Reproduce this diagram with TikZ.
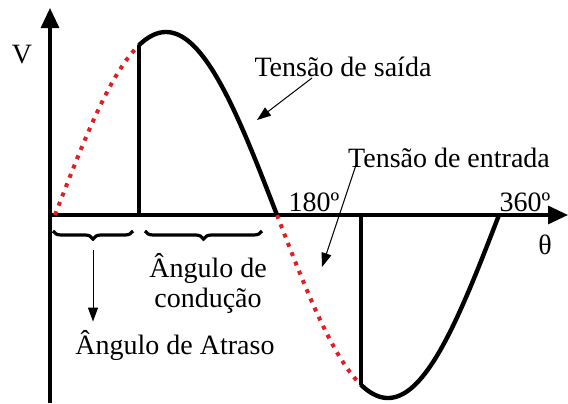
\documentclass[tikz,border=0pt]{standalone}
\usepackage{fontspec}
\setmainfont{Liberation Serif}
\usetikzlibrary{arrows.meta, positioning, calc, decorations.pathreplacing}
\definecolor{wavered}{RGB}{225,30,35}

\begin{document}
\begin{tikzpicture}[
  x=0.5pt, y=0.5pt,
  axis/.style={line width=1.6pt, -{Triangle[length=10pt, width=9pt]}},
  wave/.style={line width=2.2pt, black},
  ghost/.style={line width=2pt, wavered, dash pattern=on 2pt off 3pt},
  arr/.style={-{Triangle[length=7pt, width=5pt]}, line width=0.5pt},
  brc/.style={decorate, decoration={brace, mirror, amplitude=4pt}, line width=1.6pt},
  lbl/.style={font=\fontsize{14}{16}\selectfont, inner sep=2pt},
]
  \useasboundingbox (0,0) rectangle (568,403);

  % axes
  \coordinate (o) at (50,188);
  \draw[axis] (50,0) -- (50,395);
  \draw[axis] (o) -- (568,188);

  % input wave (dotted part) and output wave
  \draw[ghost] plot[domain=0:68, samples=40] ({55+1.2333*\x},{188+183*sin(\x)});
  \draw[ghost] plot[domain=180:248, samples=40] ({55+1.2333*\x},{188+183*sin(\x)});
  \draw[wave] plot[domain=68:180, samples=60] ({55+1.2333*\x},{188+183*sin(\x)});
  \draw[wave] plot[domain=248:360, samples=60] ({55+1.2333*\x},{188+183*sin(\x)});

  \coordinate (f1) at ({55+1.2333*68},188);
  \coordinate (f1top) at ({55+1.2333*68},{188+183*sin(68)});
  \coordinate (f2) at ({55+1.2333*248},188);
  \coordinate (f2bot) at ({55+1.2333*248},{188+183*sin(248)});
  \draw[wave] (f1) -- (f1top);
  \draw[wave] (f2) -- (f2bot);

  % axis labels
  \node[lbl] (vlab) at (22,348) {V};
  \node[lbl] (thlab) at (545,158) {θ};
  \node[lbl] (d180) at (314,201) {180º};
  \node[lbl] (d360) at (525,201) {360º};

  % braces under the axis
  \coordinate (b1s) at (53,172);
  \coordinate (b1e) at (133,172);
  \coordinate (b2s) at (145,172);
  \coordinate (b2e) at (262,172);
  \draw[brc] (b1s) -- (b1e);
  \draw[brc] (b2s) -- (b2e);

  \node[lbl, align=center] (cond) at (208,120) {Ângulo de\\[-1pt]condução};
  \node[lbl, inner sep=4pt] (atraso) at (175,58) {Ângulo de Atraso};
  \coordinate (b1tip) at (93,153);
  \draw[arr] (b1tip) -- (b1tip |- atraso.north);

  % wave labels
  \node[lbl] (saida) at (343,336) {Tensão de saída};
  \coordinate (cs) at (257,283);
  \draw[arr] ([xshift=-15.5pt, yshift=-5.5pt]saida.center) -- (cs);

  \node[lbl] (entrada) at (449,245) {Tensão de entrada};
  \coordinate (ce) at (322,136);
  \draw[arr] ([xshift=-46.5pt, yshift=-3.5pt]entrada.center) -- (ce);
\end{tikzpicture}
\end{document}
